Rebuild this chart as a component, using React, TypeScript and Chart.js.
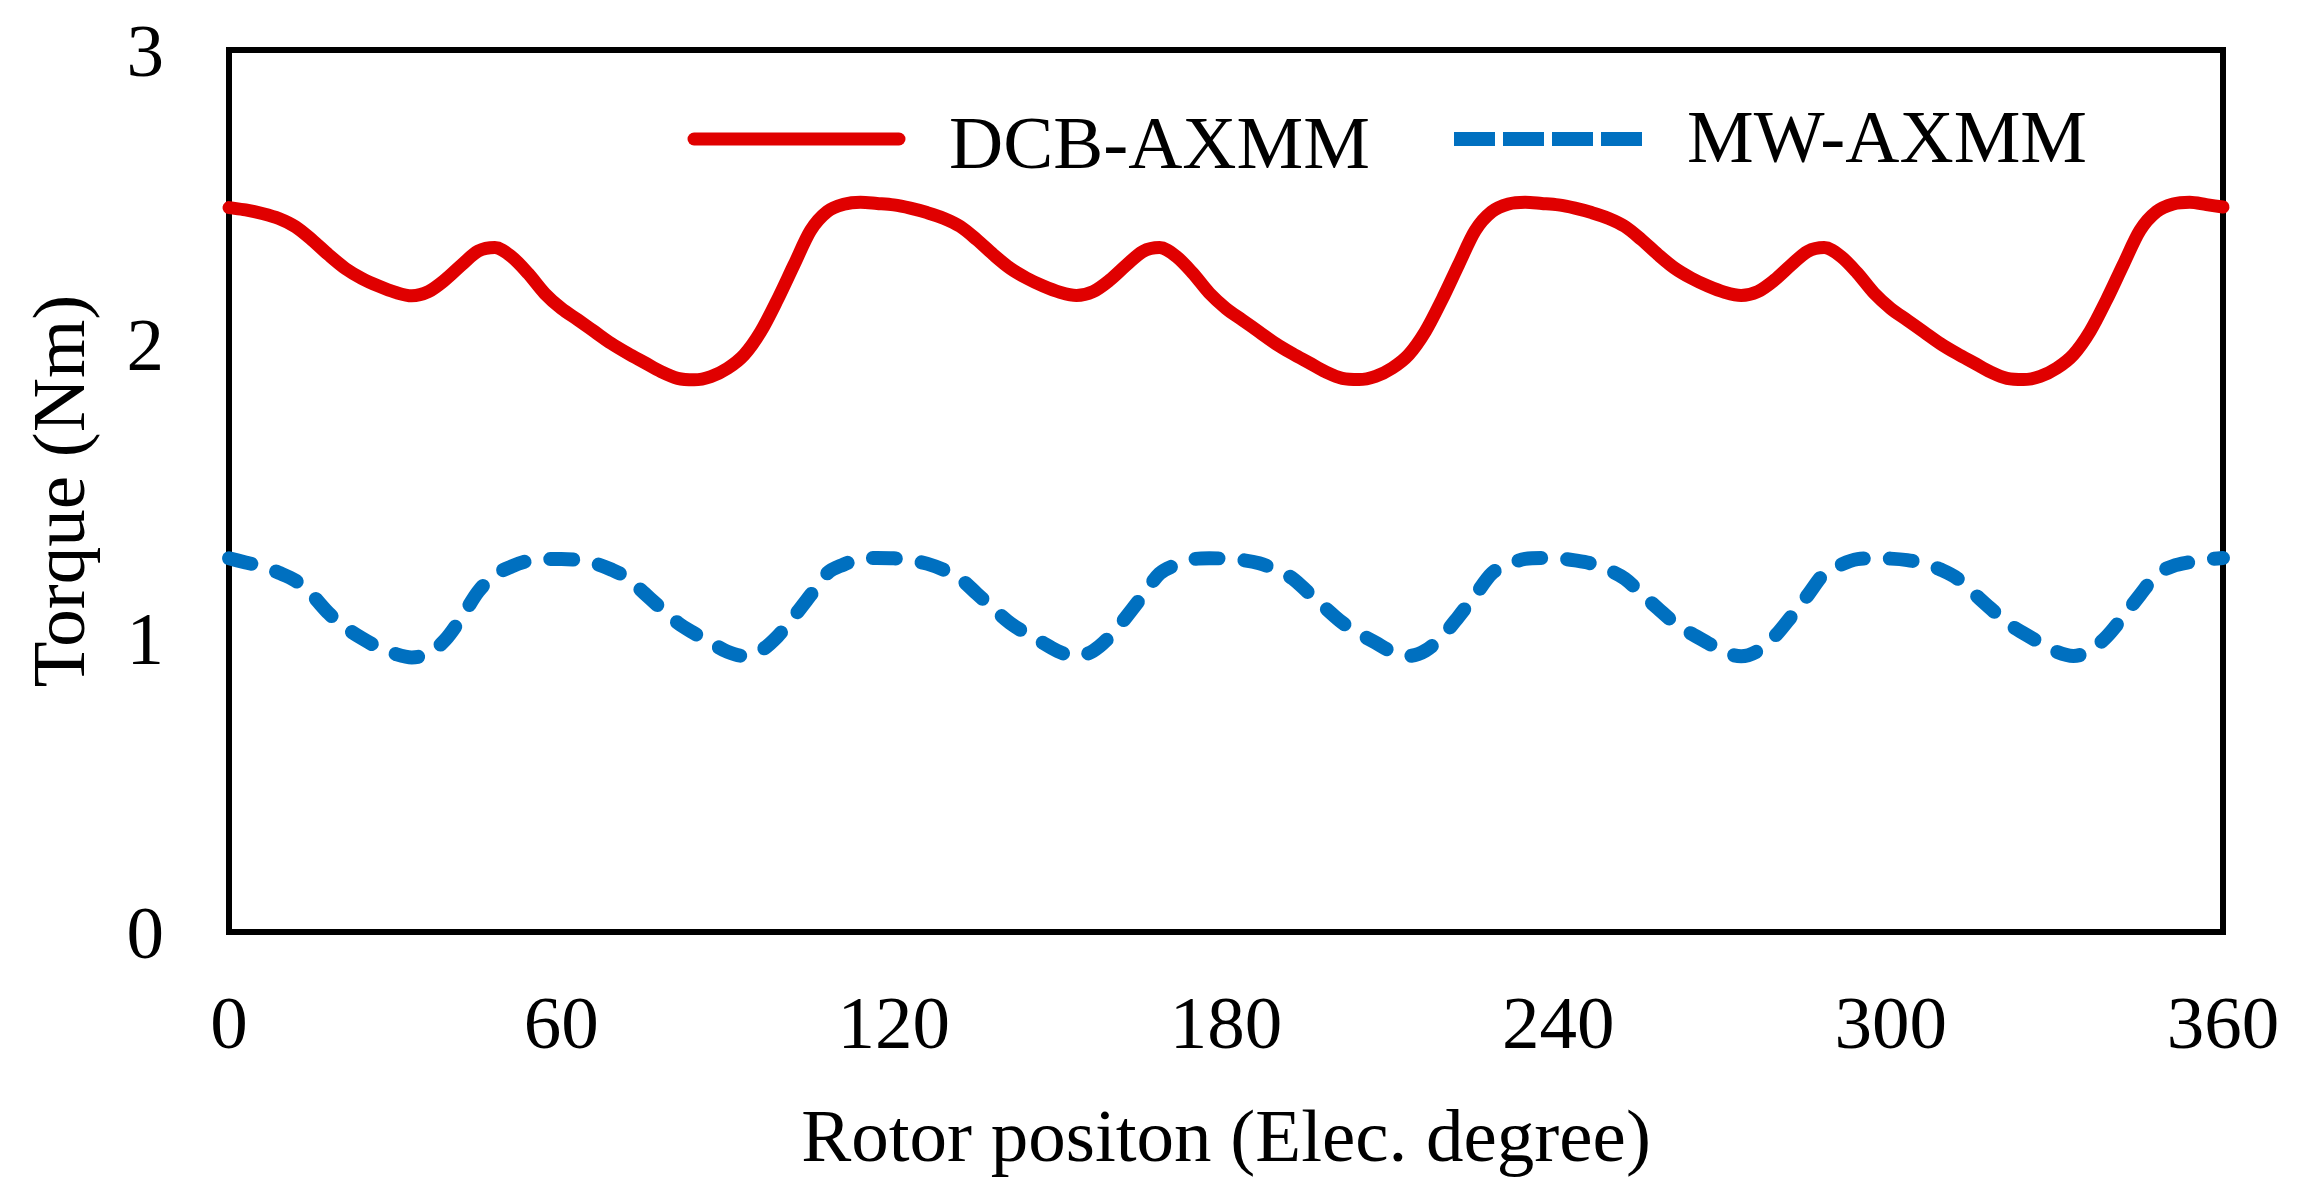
import React, { useEffect, useRef } from 'react';
import { Chart, ChartConfiguration, Plugin, registerables } from 'chart.js';

Chart.register(...registerables);

// rotor position grid, electrical degrees (every 3 deg)
const ANGLES: number[] = Array.from({ length: 121 }, (_, i) => i * 3);

// DCB-AXMM torque (Nm)
const DCB_AXMM: number[] = [
  2.464, 2.456, 2.444, 2.427, 2.399, 2.354, 2.303, 2.257, 2.223, 2.197,
  2.176, 2.164, 2.178, 2.218, 2.269, 2.316, 2.328, 2.297, 2.240, 2.172,
  2.121, 2.082, 2.042, 2.002, 1.968, 1.937, 1.906, 1.883, 1.878, 1.889,
  1.917, 1.963, 2.042, 2.150, 2.269, 2.386, 2.450, 2.475, 2.482, 2.478,
  2.473, 2.462, 2.447, 2.428, 2.400, 2.355, 2.304, 2.258, 2.224, 2.197,
  2.176, 2.165, 2.178, 2.217, 2.268, 2.315, 2.328, 2.298, 2.241, 2.173,
  2.121, 2.081, 2.041, 2.001, 1.967, 1.936, 1.905, 1.883, 1.879, 1.890,
  1.918, 1.964, 2.043, 2.151, 2.270, 2.386, 2.450, 2.476, 2.482, 2.478,
  2.473, 2.462, 2.447, 2.428, 2.400, 2.355, 2.304, 2.258, 2.224, 2.197,
  2.176, 2.165, 2.178, 2.217, 2.268, 2.315, 2.328, 2.298, 2.241, 2.173,
  2.121, 2.081, 2.041, 2.001, 1.967, 1.936, 1.905, 1.883, 1.879, 1.890,
  1.918, 1.964, 2.043, 2.151, 2.270, 2.386, 2.450, 2.476, 2.482, 2.474,
  2.466,
];

// MW-AXMM torque (Nm)
const MW_AXMM: number[] = [
  1.271, 1.257, 1.243, 1.222, 1.195, 1.146, 1.084, 1.036, 0.999, 0.968,
  0.946, 0.934, 0.948, 0.993, 1.070, 1.158, 1.214, 1.243, 1.262, 1.268,
  1.269, 1.265, 1.254, 1.233, 1.203, 1.152, 1.101, 1.052, 1.016, 0.984,
  0.953, 0.939, 0.957, 1.005, 1.073, 1.146, 1.220, 1.250, 1.270, 1.272,
  1.271, 1.264, 1.253, 1.232, 1.202, 1.151, 1.100, 1.051, 1.015, 0.983,
  0.952, 0.938, 0.956, 1.004, 1.072, 1.145, 1.219, 1.249, 1.268, 1.271,
  1.270, 1.265, 1.254, 1.233, 1.203, 1.152, 1.101, 1.052, 1.016, 0.984,
  0.953, 0.939, 0.957, 1.005, 1.073, 1.146, 1.220, 1.250, 1.269, 1.272,
  1.271, 1.264, 1.253, 1.232, 1.202, 1.151, 1.100, 1.051, 1.015, 0.983,
  0.952, 0.938, 0.956, 1.004, 1.072, 1.145, 1.219, 1.249, 1.268, 1.271,
  1.270, 1.265, 1.254, 1.233, 1.203, 1.152, 1.101, 1.052, 1.016, 0.984,
  0.953, 0.939, 0.957, 1.005, 1.073, 1.146, 1.215, 1.245, 1.258, 1.267,
  1.272,
];

const SERIES_NAMES = ['DCB-AXMM', 'MW-AXMM'];
const X_TICKS = [0, 60, 120, 180, 240, 300, 360];
const Y_TICKS = [0, 1, 2, 3];

const FONT = "'Liberation Serif', 'Times New Roman', serif";
const RED = '#E00000';
const BLUE = '#0070C0';

// black box round the plot area, under the curves
const framePlugin: Plugin = {
  id: 'frame',
  beforeDatasetsDraw(chart) {
    const { ctx, chartArea: a } = chart;
    ctx.save();
    ctx.strokeStyle = '#000';
    ctx.lineWidth = 6;
    ctx.lineJoin = 'miter';
    ctx.strokeRect(a.left, a.top, a.right - a.left, a.bottom - a.top);
    ctx.restore();
  },
};

// legend drawn inside the plot area (offsets from its top-left corner)
const legendPlugin: Plugin = {
  id: 'insideLegend',
  afterDatasetsDraw(chart) {
    const { ctx, chartArea: a } = chart;
    const items = [
      { x0: 465, x1: 670, y: 89, tx: 720, ty: 118, dash: [] as number[], cap: 'round', w: 13 },
      { x0: 1225, x1: 1413, y: 89, tx: 1458, ty: 112, dash: [41, 8], cap: 'butt', w: 14 },
    ];
    ctx.save();
    items.forEach((it, i) => {
      const ds = chart.data.datasets[i] as any;
      ctx.beginPath();
      ctx.strokeStyle = ds.borderColor;
      ctx.lineWidth = it.w;
      ctx.lineCap = it.cap as CanvasLineCap;
      ctx.setLineDash(it.dash);
      ctx.moveTo(a.left + it.x0, a.top + it.y);
      ctx.lineTo(a.left + it.x1, a.top + it.y);
      ctx.stroke();
      ctx.setLineDash([]);
      ctx.fillStyle = '#000';
      ctx.font = `75px ${FONT}`;
      ctx.textAlign = 'left';
      ctx.textBaseline = 'alphabetic';
      ctx.fillText(ds.label, a.left + it.tx, a.top + it.ty);
    });
    ctx.restore();
  },
};

export default function App() {
  const canvasRef = useRef<HTMLCanvasElement>(null);

  useEffect(() => {
    if (!canvasRef.current) return;

    const config: ChartConfiguration<'line'> = {
      type: 'line',
      data: {
        datasets: [
          {
            label: SERIES_NAMES[0],
            data: ANGLES.map((x, i) => ({ x, y: DCB_AXMM[i] })),
            borderColor: RED,
            borderWidth: 13,
            borderCapStyle: 'round',
            borderJoinStyle: 'round',
            pointRadius: 0,
            cubicInterpolationMode: 'monotone',
            clip: 14,
          },
          {
            label: SERIES_NAMES[1],
            data: ANGLES.map((x, i) => ({ x, y: MW_AXMM[i] })),
            borderColor: BLUE,
            borderWidth: 14,
            borderDash: [23, 26],
            borderCapStyle: 'round',
            borderJoinStyle: 'round',
            pointRadius: 0,
            cubicInterpolationMode: 'monotone',
            clip: 14,
          },
        ],
      },
      options: {
        animation: false,
        responsive: true,
        maintainAspectRatio: false,
        layout: { padding: { top: 50, right: 83, bottom: 0, left: 0 } },
        plugins: {
          legend: { display: false },
          tooltip: { enabled: false },
        },
        scales: {
          x: {
            type: 'linear',
            min: 0,
            max: 360,
            afterFit: (scale) => {
              scale.height = 272;
              scale.paddingLeft = 0;
              scale.paddingRight = 0;
            },
            afterBuildTicks: (scale) => {
              scale.ticks = X_TICKS.map((value) => ({ value }));
            },
            grid: { display: false, drawTicks: false },
            border: { display: false },
            ticks: {
              color: '#000',
              padding: 51,
              maxRotation: 0,
              autoSkip: false,
              font: { family: FONT, size: 75 },
            },
            title: {
              display: true,
              text: 'Rotor positon (Elec. degree)',
              color: '#000',
              padding: { top: 0, bottom: 18 },
              font: { family: FONT, size: 75 },
            },
          },
          y: {
            type: 'linear',
            min: 0,
            max: 3,
            afterFit: (scale) => {
              scale.width = 229;
              scale.paddingTop = 0;
              scale.paddingBottom = 0;
            },
            afterBuildTicks: (scale) => {
              scale.ticks = Y_TICKS.map((value) => ({ value }));
            },
            grid: { display: false, drawTicks: false },
            border: { display: false },
            ticks: {
              color: '#000',
              padding: 65,
              labelOffset: 6,
              font: { family: FONT, size: 75 },
            },
            title: {
              display: true,
              text: 'Torque (Nm)',
              color: '#000',
              padding: { top: 19, bottom: 0 },
              font: { family: FONT, size: 75 },
            },
          },
        },
      },
      plugins: [framePlugin, legendPlugin],
    };

    const chart = new Chart(canvasRef.current, config);
    return () => {
      chart.destroy();
    };
  }, []);

  return (
    <div
      style={{
        position: 'fixed',
        left: 0,
        top: 0,
        width: '2306px',
        height: '1204px',
        background: '#fff',
      }}
    >
      <canvas ref={canvasRef} />
    </div>
  );
}
